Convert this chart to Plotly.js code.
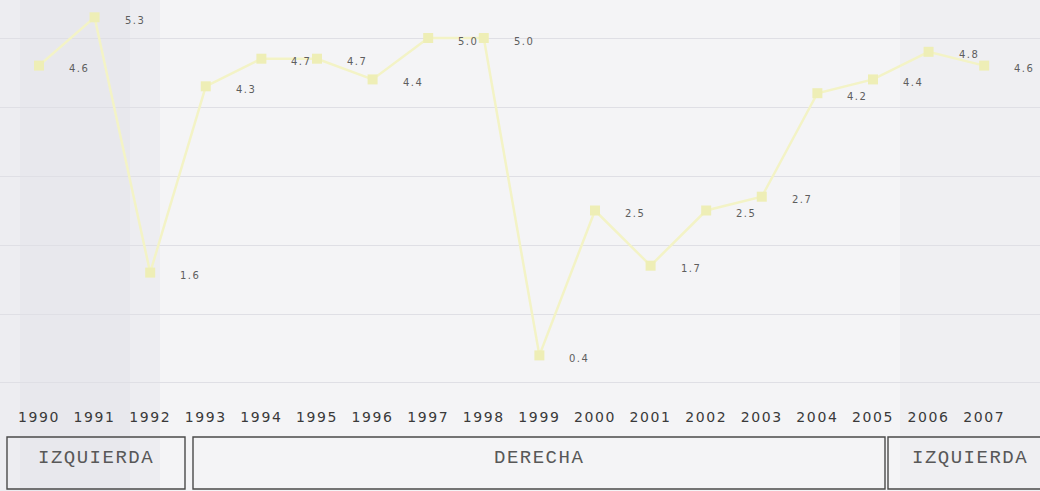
<!DOCTYPE html>
<html>
<head>
<meta charset="utf-8">
<script src="https://cdn.plot.ly/plotly-3.0.1.min.js"></script>
<style>
html,body{margin:0;padding:0;background:#f4f4f6;}
#chart{width:1040px;height:491px;}
.xtick text{letter-spacing:1.6px;}
.annotation-text{letter-spacing:1.5px;}
</style>
</head>
<body>
<div id="chart"></div>
<script>
// ---- data ----
const years = [1990,1991,1992,1993,1994,1995,1996,1997,1998,1999,2000,2001,2002,2003,2004,2005,2006,2007];
const values = [4.6,5.3,1.6,4.3,4.7,4.7,4.4,5.0,5.0,0.4,2.5,1.7,2.5,2.7,4.2,4.4,4.8,4.6];
const yearLabels = years.map(String);
const periodNames = ['IZQUIERDA','DERECHA','IZQUIERDA'];

// ---- traces ----
const line = {
  x: years, y: values, type: 'scatter', mode: 'lines+markers',
  line: {color: '#f3f3c6', width: 2.5},
  marker: {symbol: 'square', size: 10, color: '#eeeeb6'},
  hoverinfo: 'skip', showlegend: false
};

const dataLabels = years.map((yr, i) => ({
  x: yr, y: values[i], text: values[i].toFixed(1), showarrow: false,
  xshift: 40, yshift: -3,
  font: {family: 'DejaVu Sans', size: 10, color: '#5e5e5e'}
}));

// period boxes (pixel-based layout, paper coords)
const W = 1040, plotH = 407;
const boxPx = [[7,185],[193,885],[888,1052]];
const boxTop = 437, boxBot = 489;
const py = v => (plotH - v) / plotH;
const shapes = [
  {type:'rect', xref:'paper', yref:'paper', x0:0, x1:160/W, y0:py(491), y1:py(0),
   fillcolor:'rgba(200,200,212,0.14)', line:{width:0}, layer:'below'},
  {type:'rect', xref:'paper', yref:'paper', x0:20/W, x1:130/W, y0:py(491), y1:py(0),
   fillcolor:'rgba(200,200,212,0.12)', line:{width:0}, layer:'below'},
  {type:'rect', xref:'paper', yref:'paper', x0:900/W, x1:1, y0:py(491), y1:py(0),
   fillcolor:'rgba(205,205,215,0.12)', line:{width:0}, layer:'below'}
];
const periodAnn = [];
boxPx.forEach((b, i) => {
  shapes.push({type:'rect', xref:'paper', yref:'paper', x0:b[0]/W, x1:b[1]/W,
    y0:py(boxBot), y1:py(boxTop), line:{color:'#4a4a4a', width:1.4}, fillcolor:'rgba(0,0,0,0)'});
  const cx = i === 2 ? 970 : (b[0] + b[1]) / 2;
  periodAnn.push({xref:'paper', yref:'paper', x: cx / W, y: py(458), text: periodNames[i],
    showarrow:false, xanchor:'center', yanchor:'middle',
    font:{family:'Liberation Mono', size:19, color:'#585858'}});
});

const layout = {
  width: 1040, height: 491,
  margin: {l: 0, r: 0, t: 0, b: 491 - plotH, pad: 0},
  paper_bgcolor: '#f4f4f6', plot_bgcolor: 'rgba(0,0,0,0)',
  showlegend: false, hovermode: false,
  xaxis: {
    range: [1989.299, 2008.004], tickmode: 'array', tickvals: years, ticktext: yearLabels,
    showgrid: false, zeroline: false, showline: false, ticks: '',
    tickfont: {family: 'DejaVu Sans', size: 14, color: '#3a3a3a'}, fixedrange: true
  },
  yaxis: {
    range: [-0.348, 5.551], tickvals: [0,1,2,3,4,5], showticklabels: false,
    showgrid: true, gridcolor: '#dfdfe5', gridwidth: 1, zeroline: false, showline: false, fixedrange: true
  },
  shapes: shapes,
  annotations: dataLabels.concat(periodAnn)
};

Plotly.newPlot('chart', [line], layout, {displayModeBar: false, staticPlot: true});
</script>
</body>
</html>
